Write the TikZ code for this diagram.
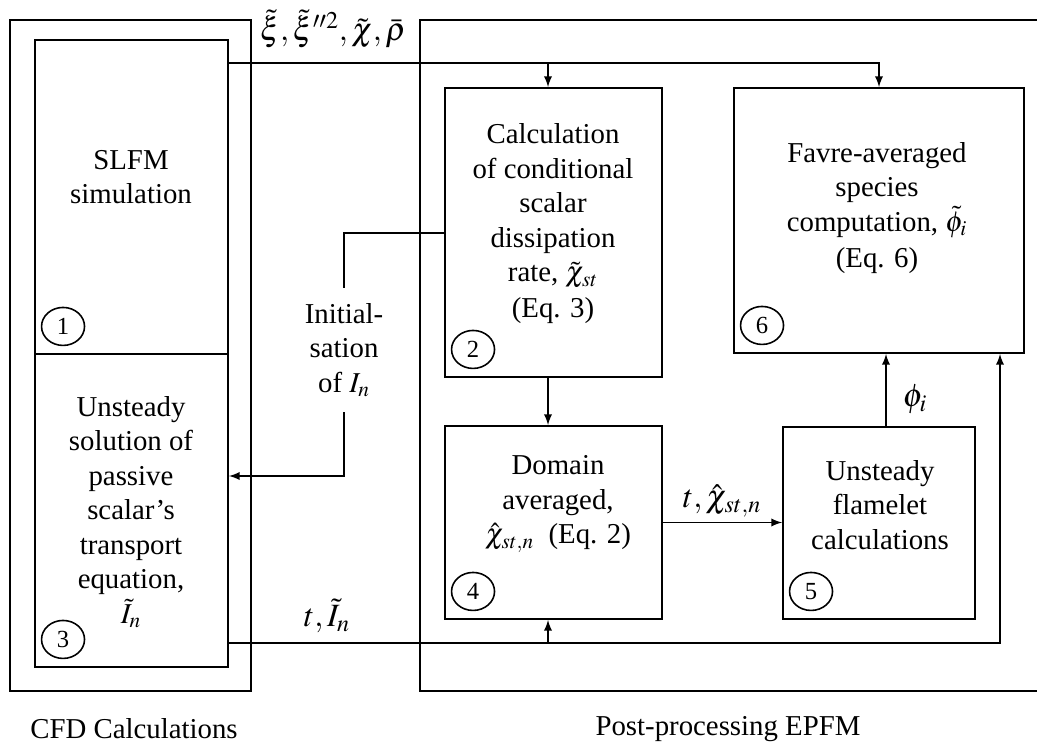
\documentclass[tikz,border=0pt]{standalone}
\usepackage{mathptmx}
\usepackage{fontspec}
\setmainfont{Liberation Serif}
\usepackage{tikz}
\usetikzlibrary{shapes.geometric}

\tikzset{
  box/.style={draw, line width=1.1pt, inner sep=0pt},
  txt/.style={align=center, font=\fontsize{16.4}{19.6}\selectfont},
  mlab/.style={font=\fontsize{18.5}{22}\selectfont},
  num/.style={draw, ellipse, line width=0.9pt, minimum width=0.86cm, minimum height=0.76cm, inner sep=0pt, font=\fontsize{14}{16}\selectfont},
  arr/.style={-latex, line width=1.1pt},
  line/.style={line width=1.1pt}
}

\begin{document}
\begin{tikzpicture}[x=0.02cm, y=-0.02cm]
      \useasboundingbox (0,0) rectangle (1037,749);
      % frames of the two parts
      \draw[line]       (10,20) rectangle (251,691);
      \draw[line]       (1037,20) -- (420,20) -- (420,691) -- (1037,691);
      % blocks
      \node[box, minimum width=3.86cm, minimum height=6.28cm] (b1) at (131.5,197) {};
      \node[box, minimum width=3.86cm, minimum height=6.26cm] (b3) at (131.5,510.5) {};
      \node[box, minimum width=4.34cm, minimum height=5.78cm] (b2) at (553.5,232.5) {};
      \node[box, minimum width=4.34cm, minimum height=3.86cm] (b4) at (553.5,522.5) {};
      \node[box, minimum width=3.84cm, minimum height=3.84cm] (b5) at (879,523) {};
      \node[box, minimum width=5.80cm, minimum height=5.30cm] (b6) at (879,220.5) {};
      \node[txt] (t1) at (131,177) {SLFM\\simulation};
      \node[txt] (t3) at (131,512) {Unsteady\\solution of\\passive\\scalar's\\transport\\equation,\\$\tilde{I}_n$};
      \node[txt] (t2) at (553,224) {Calculation\\of conditional\\scalar\\dissipation\\rate, $\tilde{\chi}_{st}$\\[1pt](Eq. 3)};
      \node[txt] (t4) at (558,504) {Domain\\averaged,\\$\hat{\chi}_{st,n}$\ \ (Eq. 2)};
      \node[txt] (t5) at (880,505) {Unsteady\\flamelet\\calculations};
      \node[txt] (t6) at (877,208) {Favre-averaged\\species\\computation, $\tilde{\phi}_i$\\[1pt](Eq. 6)};
      \foreach \b/\n in {b1/1, b2/2, b3/3, b4/4, b5/5, b6/6} {
        \node[num] (n\n) at ([xshift=0.58cm,yshift=0.57cm]\b.south west) {\n};
      }
      % connectors
      \coordinate (j1) at (548,63);
      \draw[arr]        (b1.east |- j1) -| (b6.north);
      \draw[arr]        (j1) -- (j1 |- b2.north);
      \node[mlab]       (lab0) at (333,29) {$\tilde{\xi}, \tilde{\xi}''^{2}, \tilde{\chi}, \bar{\rho}$};
      \node[txt, inner sep=0.3cm] (ini) at (344,350) {Initial-\\sation\\of $I_n$};
      \coordinate (c1) at (344,233);
      \coordinate (c2) at (344,476);
      \draw[line]       (b2.west |- c1) -- (c1) -- (ini.north);
      \draw[arr]        (ini.south) -- (c2) -- (c2 -| b3.east);
      \draw[arr]        ([xshift=-0.11cm]b2.south) -- ([xshift=-0.11cm]b4.north);
      \draw[arr]        (b4.east) -- (b4.east -| b5.west);
      \node[mlab]       (lab1) at (722,501) {$t, \hat{\chi}_{st,n}$};
      \draw[arr]        ([xshift=0.14cm]b5.north) -- ([xshift=0.14cm]b5.north |- b6.south);
      \node[mlab]       (lab2) at (915,399) {$\phi_i$};
      \coordinate (j2) at (548,643);
      \coordinate (j3) at (1000,643);
      \draw[arr]        (b3.east |- j3) -- (j3) -- (j3 |- b6.south);
      \draw[arr]        (j2) -- (j2 |- b4.south);
      \node[mlab]       (lab3) at (327,616) {$t, \tilde{I}_n$};
      % captions
      \node[txt]        (cfd) at (134,729) {CFD Calculations};
      \node[txt]        (post) at (728,729) {Post-processing EPFM};
    \end{tikzpicture}
\end{document}
